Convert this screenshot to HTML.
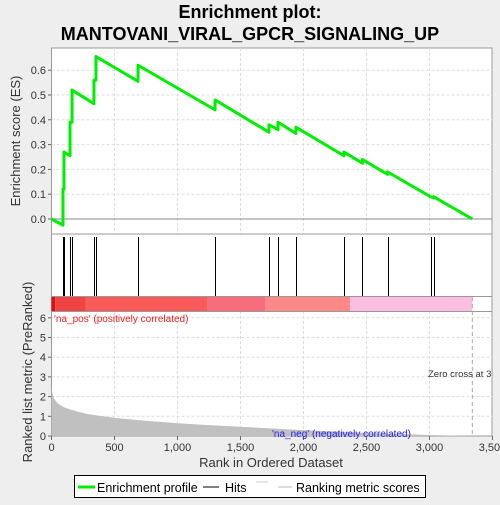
<!DOCTYPE html>
<html><head><meta charset="utf-8"><style>
body{margin:0;background:#eeeeee;font-family:"Liberation Sans","DejaVu Sans",sans-serif;}
svg text{font-family:"Liberation Sans","DejaVu Sans",sans-serif;}
</style></head><body>
<svg id="c" width="500" height="500" viewBox="0 0 500 500">
<defs><clipPath id="pc"><rect x="51.5" y="48" width="440.5" height="388"/></clipPath></defs>
<text x="250" y="18" text-anchor="middle" font-size="18" font-weight="bold">Enrichment plot:</text>
<text x="250" y="40" text-anchor="middle" font-size="18" font-weight="bold">MANTOVANI_VIRAL_GPCR_SIGNALING_UP</text>
<rect x="51.5" y="48" width="440.5" height="388" fill="#fff" stroke="#999"/>
<g id="grid"></g>
<g id="marks"></g>
<line x1="51.5" y1="234" x2="492" y2="234" stroke="#999"/>
<line x1="51.5" y1="296.5" x2="492" y2="296.5" stroke="#999"/>
<line x1="51.5" y1="311.5" x2="492" y2="311.5" stroke="#999"/>
<text x="20" y="141" transform="rotate(-90 20 141)" text-anchor="middle" font-size="13" fill="#333">Enrichment score (ES)</text>
<text x="32" y="372" transform="rotate(-90 32 372)" text-anchor="middle" font-size="13" fill="#333">Ranked list metric (PreRanked)</text>
<text x="271" y="467" text-anchor="middle" font-size="13" fill="#333">Rank in Ordered Dataset</text>
<text x="54" y="322" font-size="10" fill="#ee2222">'na_pos' (positively correlated)</text>
<text x="272" y="437" font-size="10" fill="#2222ee">'na_neg' (negatively correlated)</text>
<g clip-path="url(#pc)"><text x="428" y="377" font-size="9.5" fill="#333">Zero cross at 3340</text></g>
<g>
<rect x="74.5" y="475.5" width="351" height="22" fill="#fff" stroke="#000"/>
<line x1="78" y1="487" x2="95" y2="487" stroke="#00ee00" stroke-width="3"/>
<text x="97" y="492" font-size="12.5">Enrichment profile</text>
<line x1="203" y1="487" x2="219" y2="487" stroke="#000"/>
<text x="225" y="492" font-size="12.5">Hits</text>
<line x1="256" y1="482" x2="268" y2="482" stroke="#ccc"/>
<line x1="278" y1="487" x2="292" y2="487" stroke="#bbb"/>
<text x="296" y="492" font-size="12.5">Ranking metric scores</text>
</g>
</svg>
<script>
const hitRanks=[91,99,147,163,337,353,687,1298,1726,1798,1940,2321,2468,2667,3008,3032];
const esBefore=[-0.025,0.12,0.255,0.39,0.465,0.56,0.555,0.44,0.35,0.36,0.345,0.255,0.225,0.18,0.09,0.085];
const esAfter=[0.12,0.27,0.39,0.52,0.56,0.655,0.62,0.48,0.38,0.39,0.37,0.27,0.24,0.19,0.09,0.09];
const totalN=3340;
const metricRanks=[0,10,20,50,100,200,300,500,700,1000,1250,1500,1750,2000,2250,2500,2750,3000,3340];
const metricValues=[2.4,2.1,1.9,1.65,1.45,1.25,1.1,0.92,0.8,0.65,0.55,0.47,0.38,0.3,0.22,0.15,0.1,0.05,0];
const xTicks=[0,500,1000,1500,2000,2500,3000,3500];
const xTickLabels=["0","500","1,000","1,500","2,000","2,500","3,000","3,500"];
const esTicks=[0,0.1,0.2,0.3,0.4,0.5,0.6];
const esTickLabels=["0.0","0.1","0.2","0.3","0.4","0.5","0.6"];
const mTicks=[0,1,2,3,4,5,6];
const NS="http://www.w3.org/2000/svg";
const X=r=>51.5+r*0.126;
const YE=v=>219-v*248;
const YM=v=>436-v*19.7;
const g=document.getElementById('grid'),m=document.getElementById('marks');
function mk(p,tag,a){const e=document.createElementNS(NS,tag);for(const k in a)e.setAttribute(k,a[k]);p.appendChild(e);return e;}
xTicks.forEach((t,i)=>{
 const x=X(t);
 if(t>0&&t<3500){const l1=mk(g,'line',{x1:x,y1:48,x2:x,y2:234,stroke:'#ddd','stroke-dasharray':'3,2'});
 
 const l2=mk(g,'line',{x1:x,y1:311,x2:x,y2:436,stroke:'#ddd','stroke-dasharray':'3,2'});
 }
 mk(g,'line',{x1:x,y1:436,x2:x,y2:440,stroke:'#666'});
 const tx=mk(g,'text',{x:x,y:451,'text-anchor':'middle','font-size':'11',fill:'#333'});tx.textContent=xTickLabels[i];
 
});
esTicks.forEach((t,i)=>{
 const y=YE(t);
 const l=mk(g,'line',{x1:51.5,y1:y,x2:492,y2:y,stroke:t===0?'#888':'#ddd','stroke-dasharray':t===0?'':'3,2'});
 
 mk(g,'line',{x1:48,y1:y,x2:51.5,y2:y,stroke:'#666'});
 const tx=mk(g,'text',{x:46,y:y+4,'text-anchor':'end','font-size':'11',fill:'#333'});tx.textContent=esTickLabels[i];
 
});
mTicks.forEach(t=>{
 const y=YM(t);
 if(t>0){const l=mk(g,'line',{x1:51.5,y1:y,x2:492,y2:y,stroke:'#ddd','stroke-dasharray':'3,2'});
 }
 mk(g,'line',{x1:48,y1:y,x2:51.5,y2:y,stroke:'#666'});
 const tx=mk(g,'text',{x:46,y:y+4,'text-anchor':'end','font-size':'11',fill:'#333'});tx.textContent=String(t);
 
});
const bands=[[0,30,'#dd1111'],[30,270,'#ee4444'],[270,1240,'#fa5a5a'],[1240,1700,'#f86c7c'],[1700,2370,'#fc8888'],[2370,totalN,'#fbbde0']];
bands.forEach(b=>{const r=mk(m,'rect',{x:X(b[0]),y:297,width:X(b[1])-X(b[0]),height:14,fill:b[2]});
 });
let pts=metricRanks.map((r,i)=>X(r)+','+YM(metricValues[i])).join(' ');
pts+=' '+X(totalN)+','+YM(0)+' '+X(0)+','+YM(0);
const area=mk(m,'polygon',{points:pts,fill:'#c0c0c0'});

const zl=mk(m,'line',{x1:X(totalN),y1:297,x2:X(totalN),y2:436,stroke:'#aaa','stroke-dasharray':'4,3'});

hitRanks.forEach(r=>{const x=Math.round(X(r))+0.5;const l=mk(m,'line',{x1:x,y1:237,x2:x,y2:296,stroke:'#000','stroke-width':'1'});
 });
let d='M'+X(0)+','+YE(0);
hitRanks.forEach((r,i)=>{d+=' L'+X(r)+','+YE(esBefore[i])+' L'+X(r)+','+YE(esAfter[i]);});
d+=' L'+X(totalN)+','+YE(0);
const es=mk(m,'path',{d:d,fill:'none',stroke:'#00ee00','stroke-width':'3','stroke-linejoin':'round'});

</script>
</body></html>
